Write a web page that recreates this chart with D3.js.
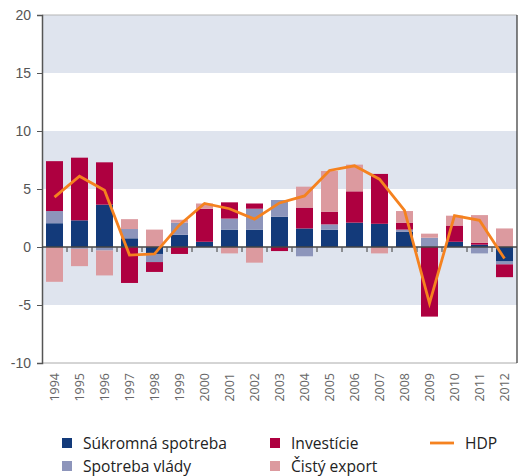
<!DOCTYPE html>
<html>
<head>
<meta charset="utf-8">
<script src="https://cdn.jsdelivr.net/npm/d3@7"></script>
<style>
  body { margin: 0; background: #fff; }
  svg { display: block; font-family: "Open Sans", "Noto Sans", sans-serif; }
</style>
</head>
<body>
<svg id="chart" width="519" height="476"></svg>
<script>
// roky a zložky rastu HDP (p.b.)
const roky = ['1994','1995','1996','1997','1998','1999','2000','2001','2002','2003',
              '2004','2005','2006','2007','2008','2009','2010','2011','2012']
const sukromna = [2.05, 2.3, 3.65, 0.75, -0.6, 1.05, 0.45, 1.5, 1.5, 2.6, 1.6, 1.5, 2.1, 2.0, 1.3, 0, 0.45, 0.2, -1.25]
const vlada    = [1.05, -0.15, -0.3, 0.8, -0.7, 1.05, 0, 0.95, 1.8, 1.45, -0.8, 0.45, 0, 0, 0.2, 0.8, 0, -0.55, -0.25]
const investicie = [4.3, 5.4, 3.65, -3.1, -0.85, -0.6, 2.85, 1.4, 0.45, -0.35, 1.8, 1.1, 2.7, 4.3, 0.6, -6.0, 1.4, 0.15, -1.1]
const export_ = [-3.0, -1.5, -2.15, 0.85, 1.5, 0.25, 0.45, -0.55, -1.35, 0, 1.8, 3.5, 2.3, -0.55, 1.0, 0.35, 0.85, 2.4, 1.6]
const hdp = [4.3, 6.1, 4.9, -0.7, -0.6, 1.9, 3.75, 3.3, 2.4, 3.8, 4.4, 6.6, 7.0, 5.85, 3.15, -4.85, 2.7, 2.3, -1.0]
const yTicks = [20, 15, 10, 5, 0, -5, -10]
const pasy = [[15, 20], [5, 10], [-5, 0]]

const kluce = ['sukromna', 'vlada', 'investicie', 'export']
const farby = { sukromna: '#133a7a', vlada: '#8d95bb', investicie: '#ae0040', export: '#dc9a9f' }
const nazvy = { sukromna: 'Súkromná spotreba', vlada: 'Spotreba vlády', investicie: 'Investície', export: 'Čistý export' }

let tabulka = roky.map((r, i) => ({
  rok: r, sukromna: sukromna[i], vlada: vlada[i], investicie: investicie[i], export: export_[i]
}))

let svg = d3.select('#chart')
let mLeft = 42, mRight = 517, mTop = 15, mBottom = 363

let x = d3.scaleBand().domain(roky).range([mLeft, mRight]).paddingInner(0.32).paddingOuter(0.16)
let y = d3.scaleLinear().domain([-10, 20]).range([mBottom, mTop])

// pozadie - pásy
svg.append('g').selectAll('rect')
   .data(pasy)
   .enter()
   .append('rect')
   .attr('x', mLeft)
   .attr('width', mRight - mLeft)
   .attr('y', d => y(d[1]))
   .attr('height', d => y(d[0]) - y(d[1]))
   .attr('fill', '#dfe4ee')

// rámik hore a dole
svg.append('line').attr('x1', mLeft).attr('x2', mRight).attr('y1', y(20)).attr('y2', y(20))
   .attr('stroke', '#b5b5b5').attr('stroke-width', 1)
svg.append('line').attr('x1', mLeft).attr('x2', mRight).attr('y1', y(-10)).attr('y2', y(-10))
   .attr('stroke', '#aaa').attr('stroke-width', 1)
svg.append('line').attr('x1', mRight).attr('x2', mRight).attr('y1', y(20)).attr('y2', y(-10))
   .attr('stroke', '#333').attr('stroke-width', 1.2)

// stĺpce
let stack = d3.stack().keys(kluce).offset(d3.stackOffsetDiverging)
let serie = stack(tabulka)

svg.append('g').selectAll('g')
   .data(serie)
   .enter()
   .append('g')
   .attr('fill', d => farby[d.key])
   .selectAll('rect')
   .data(d => d)
   .enter()
   .append('rect')
   .attr('x', d => x(d.data.rok))
   .attr('width', x.bandwidth())
   .attr('y', d => y(Math.max(d[0], d[1])))
   .attr('height', d => Math.abs(y(d[0]) - y(d[1])))

// os y
let osY = d3.axisLeft(y).tickValues(yTicks).tickSize(5).tickPadding(6).tickFormat(d => String(d))
let gy = svg.append('g').attr('transform', `translate(${mLeft},0)`).call(osY)
gy.select('.domain').attr('stroke', '#555').attr('stroke-width', 1.5)
gy.selectAll('.tick line').attr('stroke', '#555')
gy.selectAll('.tick text').attr('fill', '#555').style('font-size', '14px')

// os x na nule
svg.append('line').attr('x1', mLeft).attr('x2', mRight).attr('y1', y(0)).attr('y2', y(0))
   .attr('stroke', '#444').attr('stroke-width', 1.5)
svg.append('g').selectAll('line')
   .data(roky.slice(1))
   .enter()
   .append('line')
   .attr('x1', d => x(d) - x.step() * x.paddingInner() / 2)
   .attr('x2', d => x(d) - x.step() * x.paddingInner() / 2)
   .attr('y1', y(0))
   .attr('y2', y(0) + 5)
   .attr('stroke', '#555')
   .attr('stroke-width', 1.2)

// popisky rokov
svg.append('g').selectAll('text')
   .data(roky)
   .enter()
   .append('text')
   .attr('transform', d => `translate(${x(d) + x.bandwidth() / 2 + 4.5},373) rotate(-90)`)
   .attr('text-anchor', 'end')
   .attr('fill', '#666')
   .style('font-size', '12.5px')
   .text(d => d)

// HDP čiara
let ciara = d3.line()
  .x((d, i) => x(roky[i]) + x.bandwidth() / 2)
  .y(d => y(d))
svg.append('path')
   .datum(hdp)
   .attr('d', ciara)
   .attr('fill', 'none')
   .attr('stroke', '#f5821f')
   .attr('stroke-width', 2.8)
   .attr('stroke-linejoin', 'miter')

// legenda
let legenda = [
  { k: 'sukromna', x: 62, y: 443 }, { k: 'vlada', x: 62, y: 466 },
  { k: 'investicie', x: 270, y: 443 }, { k: 'export', x: 270, y: 466 }
]
let lg = svg.append('g')
lg.selectAll('rect')
  .data(legenda)
  .enter()
  .append('rect')
  .attr('x', d => d.x)
  .attr('y', d => d.y - 5)
  .attr('width', 10)
  .attr('height', 10)
  .attr('fill', d => farby[d.k])
lg.selectAll('text')
  .data(legenda)
  .enter()
  .append('text')
  .attr('x', d => d.x + 21)
  .attr('y', d => d.y + 5.5)
  .attr('fill', '#222')
  .style('font-size', '15.6px')
  .text(d => nazvy[d.k])
lg.append('line').attr('x1', 430).attr('x2', 454).attr('y1', 443).attr('y2', 443)
  .attr('stroke', '#f5821f').attr('stroke-width', 2.8)
lg.append('text').attr('x', 465).attr('y', 448.5).attr('fill', '#222')
  .style('font-size', '15.6px').text('HDP')
</script>
</body>
</html>
